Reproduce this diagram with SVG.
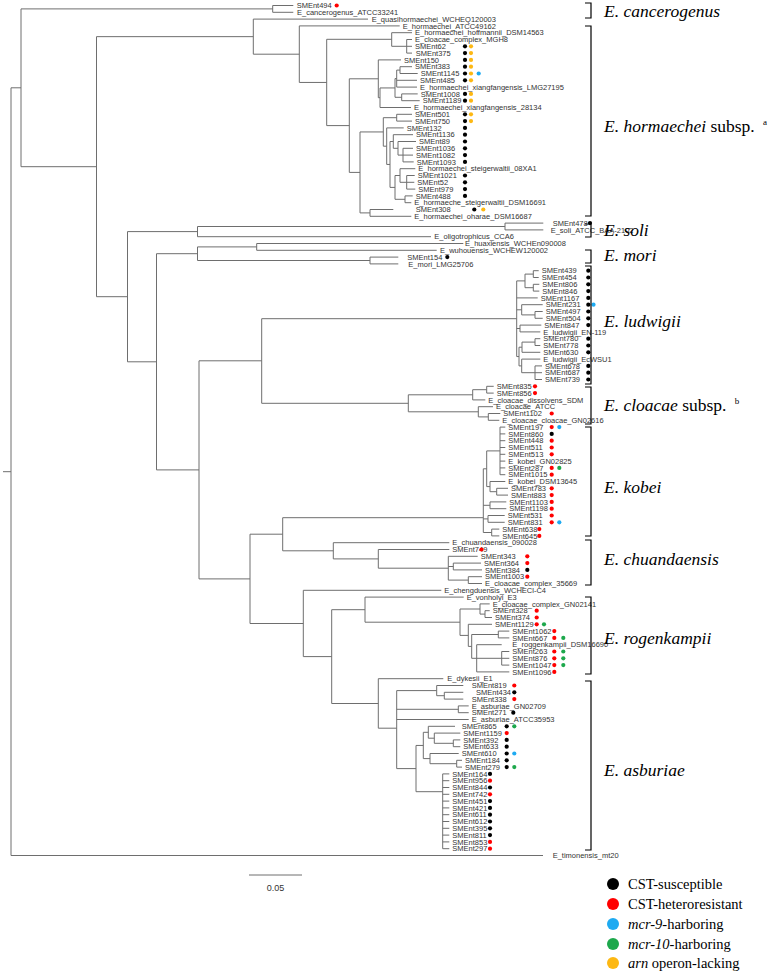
<svg xmlns="http://www.w3.org/2000/svg" width="784" height="971" viewBox="0 0 784 971">
<style>
.e{fill:none;stroke:#6e6e6e;stroke-width:1}
.l{font-family:"Liberation Sans",Arial,sans-serif;font-size:7.5px;fill:#333}
.k{fill:#000}.r{fill:#f00}.b{fill:#1eaaf1}.g{fill:#1da84c}.y{fill:#fdb813}
.br{fill:none;stroke:#000;stroke-width:1.2}
.sp{font-family:"Liberation Serif","Times New Roman",serif;font-size:17.5px;fill:#000}
.lg{font-family:"Liberation Serif","Times New Roman",serif;font-size:14.5px;fill:#000}
.sc{font-family:"Liberation Sans",Arial,sans-serif;font-size:9px;fill:#333}
</style>
<rect width="784" height="971" fill="#fff"/>
<g id="edges" class="e">
<path d="M11 87.8V855.5M3 471.7H11M11 87.8H21M11 855.5H543"/>
<path d="M21 8.9V166.7M21 8.9H272.7M21 166.7H96.5"/>
<path d="M272.7 5.5V12.3M272.7 5.5H293.3M272.7 12.3H293.3"/>
<path d="M96.5 36.65V296.7M96.5 36.65H253.3M96.5 296.7H127.5"/>
<path d="M253.3 19.1V54.2M253.3 19.1H368M253.3 54.2H299.3"/>
<path d="M299.3 25.9V82.45M299.3 25.9H399.7M299.3 82.45H326.7"/>
<path d="M326.7 39.3V125.6M326.7 39.3H391.7M326.7 125.6H349.3"/>
<path d="M391.7 32.7V46.3M391.7 32.7H412M391.7 46.3H406.7"/>
<path d="M406.7 39.5V53.1M406.7 39.5H412M406.7 46.3H412M406.7 53.1H412"/>
<path d="M349.3 78.8V172.4M349.3 78.8H378.3M349.3 172.4H360"/>
<path d="M378.3 59.9V97.7M378.3 59.9H401M378.3 97.7H380"/>
<path d="M380 87.95V107.5M380 87.95H395M380 107.5H411"/>
<path d="M395 78.6V97.3M395 78.6H396.7M395 97.3H401.7"/>
<path d="M396.7 70.1V87.1M396.7 70.1H400M396.7 80.3H417M396.7 87.1H417"/>
<path d="M400 66.7V73.5M400 66.7H412M400 73.5H417.7"/>
<path d="M401.7 93.9V100.7M401.7 93.9H417.7M401.7 100.7H419.7"/>
<path d="M360 131.95V212.9M360 131.95H383.3M360 212.9H370"/>
<path d="M383.3 117.7V146.2M383.3 117.7H396.7M383.3 146.2H386.7"/>
<path d="M396.7 114.3V121.1M396.7 114.3H412M396.7 121.1H412"/>
<path d="M386.7 127.9V164.45M386.7 127.9H403.7M386.7 164.45H390"/>
<path d="M390 141.5V187.4M390 141.5H393.3M390 187.4H395"/>
<path d="M393.3 134.7V148.3M393.3 134.7H413M393.3 148.3H398"/>
<path d="M398 141.5V155.1M398 141.5H416M398 155.1H403"/>
<path d="M403 148.3V161.9M403 148.3H413M403 155.1H413M403 161.9H413.7"/>
<path d="M395 175.5V199.3M395 175.5H400M395 199.3H405"/>
<path d="M400 168.7V182.3M400 168.7H415.3M400 182.3H406.7"/>
<path d="M406.7 175.5V189.1M406.7 175.5H414.7M406.7 182.3H414.3M406.7 189.1H415.3"/>
<path d="M405 195.9V202.7M405 195.9H412.7M405 202.7H411.3"/>
<path d="M370 209.5V216.3M370 209.5H393.3M370 216.3H411.3"/>
<path d="M127.5 231.6V361.8M127.5 231.6H197.5M127.5 361.8H156.5"/>
<path d="M197.5 226.5V236.7M197.5 226.5H505M197.5 236.7H431"/>
<path d="M505 223.1V229.9M505 223.1H543.3M505 229.9H543.3"/>
<path d="M156.5 253.7V469.9M156.5 253.7H197.5M156.5 469.9H199"/>
<path d="M197.5 246.9V260.5M197.5 246.9H256.7M197.5 260.5H370"/>
<path d="M256.7 243.5V250.3M256.7 243.5H463.3M256.7 250.3H436.7"/>
<path d="M370 257.1V263.9M370 257.1H398.3M370 263.9H398.3"/>
<path d="M199 360.8V578.9M199 360.8H261.7M199 578.9H250"/>
<path d="M261.7 318.7V403.3M261.7 318.7H516.7M261.7 403.3H408.3"/>
<path d="M516.7 280.9V356.55M516.7 280.9H525M516.7 297.9H537.7M516.7 309.8H521.7M516.7 328.5H520M516.7 356.55H519"/>
<path d="M525 274.1V287.7M525 274.1H533.3M525 287.7H533.3"/>
<path d="M533.3 270.7V277.5M533.3 270.7H538.7M533.3 277.5H538.7"/>
<path d="M533.3 284.3V291.1M533.3 284.3H539.3M533.3 291.1H539.3"/>
<path d="M521.7 304.7V314.9M521.7 304.7H542.7M521.7 314.9H535"/>
<path d="M535 311.5V318.3M535 311.5H542.7M535 318.3H542.7"/>
<path d="M520 325.1V331.9M520 325.1H541.3M520 331.9H540.3"/>
<path d="M519 347.2V365.9M519 347.2H522M519 365.9H521.7"/>
<path d="M522 342.1V352.3M522 342.1H535M522 352.3H540.3"/>
<path d="M535 338.7V345.5M535 338.7H540.3M535 345.5H540.3"/>
<path d="M521.7 359.1V372.7M521.7 359.1H540.3M521.7 372.7H535"/>
<path d="M535 365.9V379.5M535 365.9H542M535 372.7H542M535 379.5H542"/>
<path d="M408.3 394.8V411.8M408.3 394.8H472.7M408.3 411.8H478.3"/>
<path d="M472.7 389.7V399.9M472.7 389.7H486.7M472.7 399.9H485.3"/>
<path d="M486.7 386.3V393.1M486.7 386.3H493.7M486.7 393.1H493.7"/>
<path d="M478.3 406.7V416.9M478.3 406.7H493M478.3 416.9H488.3"/>
<path d="M488.3 413.5V420.3M488.3 413.5H500.3M488.3 420.3H499.3"/>
<path d="M250 534.2V623.5M250 534.2H282.7M250 623.5H303.3"/>
<path d="M282.7 517.7V550.8M282.7 517.7H483.3M282.7 550.8H333.3"/>
<path d="M483.3 468.8V532.5M483.3 468.8H486.7M483.3 505.3H490M483.3 518.9H488M483.3 532.5H491.7"/>
<path d="M486.7 450.9V486.6M486.7 450.9H500M486.7 486.6H490"/>
<path d="M500 427.1V474.7M500 427.1H505.3M500 433.9H505.3M500 440.7H505.3M500 447.5H505.3M500 454.3H505.3M500 461.1H505.3M500 467.9H505.3M500 474.7H505.3"/>
<path d="M490 481.5V491.7M490 481.5H505.3M490 491.7H496.7"/>
<path d="M496.7 488.3V495.1M496.7 488.3H508M496.7 495.1H508"/>
<path d="M490 501.9V508.7M490 501.9H506.3M490 508.7H506.3"/>
<path d="M488 515.5V522.3M488 515.5H504.7M488 522.3H504.7"/>
<path d="M491.7 529.1V535.9M491.7 529.1H499.3M491.7 535.9H499.3"/>
<path d="M333.3 542.7V558.9M333.3 542.7H449.3M333.3 558.9H378.3"/>
<path d="M378.3 549.5V568.2M378.3 549.5H449.3M378.3 568.2H448.3"/>
<path d="M448.3 556.3V580.1M448.3 556.3H477.7M448.3 566.5H453.3M448.3 580.1H468.3"/>
<path d="M453.3 563.1V569.9M453.3 563.1H481M453.3 569.9H482"/>
<path d="M468.3 576.7V583.5M468.3 576.7H482M468.3 583.5H482"/>
<path d="M303.3 590.3V656.6M303.3 590.3H441.3M303.3 656.6H331.7"/>
<path d="M331.7 609.7V703.5M331.7 609.7H365M331.7 703.5H378.3"/>
<path d="M365 597.1V622.2M365 597.1H463.7M365 622.2H460"/>
<path d="M460 609V635.4M460 609H480M460 635.4H468.3"/>
<path d="M480 603.9V614.1M480 603.9H489.7M480 614.1H485"/>
<path d="M485 610.7V617.5M485 610.7H489.7M485 617.5H492"/>
<path d="M468.3 624.3V646.4M468.3 624.3H492M468.3 646.4H471.7"/>
<path d="M471.7 634.5V658.3M471.7 634.5H498.3M471.7 658.3H476.7"/>
<path d="M498.3 631.1V637.9M498.3 631.1H509.3M498.3 637.9H509.3"/>
<path d="M476.7 644.7V671.9M476.7 644.7H501.7M476.7 658.3H501.7M476.7 671.9H509.3"/>
<path d="M501.7 651.5V665.1M501.7 651.5H509.3M501.7 658.3H509.3M501.7 665.1H509.3"/>
<path d="M378.3 678.7V728.2M378.3 678.7H443.3M378.3 728.2H396.7"/>
<path d="M396.7 690.6V768.6M396.7 690.6H436.7M396.7 709.3H458.3M396.7 719.5H468.7M396.7 768.6H416"/>
<path d="M436.7 685.5V695.7M436.7 685.5H463.3M436.7 695.7H444.3"/>
<path d="M444.3 692.3V699.1M444.3 692.3H463.3M444.3 699.1H463.3"/>
<path d="M458.3 705.9V712.7M458.3 705.9H468.7M458.3 712.7H468.7"/>
<path d="M416 745.45V791.7M416 745.45H423.3M416 791.7H442.7"/>
<path d="M423.3 732.3V758.6M423.3 732.3H428.3M423.3 758.6H430"/>
<path d="M428.3 726.3V738.2M428.3 726.3H455M428.3 738.2H434.3"/>
<path d="M434.3 733.1V743.3M434.3 733.1H460.3M434.3 743.3H453.3"/>
<path d="M453.3 739.9V746.7M453.3 739.9H460.3M453.3 746.7H460.3"/>
<path d="M430 753.5V763.7M430 753.5H458.7M430 763.7H456.7"/>
<path d="M456.7 760.3V767.1M456.7 760.3H462M456.7 767.1H462"/>
<path d="M442.7 773.9V848.7M442.7 773.9H449.3M442.7 780.7H449.3M442.7 787.5H449.3M442.7 794.3H449.3M442.7 801.1H449.3M442.7 807.9H449.3M442.7 814.7H449.3M442.7 821.5H449.3M442.7 828.3H449.3M442.7 835.1H449.3M442.7 841.9H449.3M442.7 848.7H449.3"/>
</g>
<g id="leaves">
<g id="n1"><text class="l" x="296.7" y="8.1">SMEnt494</text><circle class="r" cx="336.7" cy="5.5" r="2.1"/></g>
<g id="n2"><text class="l" x="297" y="14.9">E_cancerogenus_ATCC33241</text></g>
<g id="n3"><text class="l" x="371.7" y="21.7">E_quasihormaechei_WCHEQ120003</text></g>
<g id="n4"><text class="l" x="402.7" y="28.5">E_hormaechei_ATCC49162</text></g>
<g id="n5"><text class="l" x="415" y="35.3">E_hormaechei_hoffmannii_DSM14563</text></g>
<g id="n6"><text class="l" x="415" y="42.1">E_cloacae_complex_MGH8</text></g>
<g id="n7"><text class="l" x="415" y="48.9">SMEnt62</text><circle class="k" cx="465" cy="46.3" r="2.1"/><circle class="y" cx="471" cy="46.3" r="2.1"/></g>
<g id="n8"><text class="l" x="415.7" y="55.7">SMEnt375</text><circle class="k" cx="465" cy="53.1" r="2.1"/><circle class="y" cx="471" cy="53.1" r="2.1"/></g>
<g id="n9"><text class="l" x="404" y="62.5">SMEnt150</text><circle class="k" cx="465" cy="59.9" r="2.1"/><circle class="y" cx="471" cy="59.9" r="2.1"/></g>
<g id="n10"><text class="l" x="415" y="69.3">SMEnt383</text><circle class="k" cx="465" cy="66.7" r="2.1"/><circle class="y" cx="471" cy="66.7" r="2.1"/></g>
<g id="n11"><text class="l" x="420.7" y="76.1">SMEnt1145</text><circle class="k" cx="465" cy="73.5" r="2.1"/><circle class="y" cx="471" cy="73.5" r="2.1"/><circle class="b" cx="478.7" cy="73.5" r="2.1"/></g>
<g id="n12"><text class="l" x="420" y="82.9">SMEnt485</text><circle class="k" cx="465" cy="80.3" r="2.1"/><circle class="y" cx="471" cy="80.3" r="2.1"/></g>
<g id="n13"><text class="l" x="420" y="89.7">E_hormaechei_xiangfangensis_LMG27195</text></g>
<g id="n14"><text class="l" x="420.7" y="96.5">SMEnt1008</text><circle class="k" cx="465" cy="93.9" r="2.1"/><circle class="y" cx="471" cy="93.9" r="2.1"/></g>
<g id="n15"><text class="l" x="422.7" y="103.3">SMEnt1189</text><circle class="k" cx="465" cy="100.7" r="2.1"/><circle class="y" cx="471" cy="100.7" r="2.1"/></g>
<g id="n16"><text class="l" x="414" y="110.1">E_hormaechei_xiangfangensis_28134</text></g>
<g id="n17"><text class="l" x="415" y="116.9">SMEnt501</text><circle class="k" cx="465" cy="114.3" r="2.1"/><circle class="y" cx="471" cy="114.3" r="2.1"/></g>
<g id="n18"><text class="l" x="415" y="123.7">SMEnt750</text><circle class="k" cx="465" cy="121.1" r="2.1"/><circle class="y" cx="471" cy="121.1" r="2.1"/></g>
<g id="n19"><text class="l" x="406.7" y="130.5">SMEnt132</text><circle class="k" cx="465" cy="127.9" r="2.1"/></g>
<g id="n20"><text class="l" x="416" y="137.3">SMEnt1136</text><circle class="k" cx="465" cy="134.7" r="2.1"/></g>
<g id="n21"><text class="l" x="419" y="144.1">SMEnt89</text><circle class="k" cx="465" cy="141.5" r="2.1"/></g>
<g id="n22"><text class="l" x="416" y="150.9">SMEnt1036</text><circle class="k" cx="465" cy="148.3" r="2.1"/></g>
<g id="n23"><text class="l" x="416" y="157.7">SMEnt1082</text><circle class="k" cx="465" cy="155.1" r="2.1"/></g>
<g id="n24"><text class="l" x="416.7" y="164.5">SMEnt1093</text><circle class="k" cx="465" cy="161.9" r="2.1"/></g>
<g id="n25"><text class="l" x="418.3" y="171.3">E_hormaechei_steigerwaltii_08XA1</text></g>
<g id="n26"><text class="l" x="417.7" y="178.1">SMEnt1021</text><circle class="k" cx="465" cy="175.5" r="2.1"/></g>
<g id="n27"><text class="l" x="417.3" y="184.9">SMEnt52</text><circle class="k" cx="465" cy="182.3" r="2.1"/></g>
<g id="n28"><text class="l" x="418.3" y="191.7">SMEnt979</text><circle class="k" cx="465" cy="189.1" r="2.1"/></g>
<g id="n29"><text class="l" x="415.7" y="198.5">SMEnt488</text><circle class="k" cx="465" cy="195.9" r="2.1"/></g>
<g id="n30"><text class="l" x="414.3" y="205.3">E_hormaeche_steigerwaltii_DSM16691</text></g>
<g id="n31"><text class="l" x="415.7" y="212.1">SMEnt308</text><circle class="k" cx="474.3" cy="209.5" r="2.1"/><circle class="y" cx="483.3" cy="209.5" r="2.1"/></g>
<g id="n32"><text class="l" x="414.3" y="218.9">E_hormaechei_oharae_DSM16687</text></g>
<g id="n33"><text class="l" x="552.7" y="225.7">SMEnt478</text><circle class="k" cx="590" cy="223.1" r="2.1"/></g>
<g id="n34"><text class="l" x="550.7" y="232.5">E_soli_ATCC_BAA-2102</text></g>
<g id="n35"><text class="l" x="434.3" y="239.3">E_oligotrophicus_CCA6</text></g>
<g id="n36"><text class="l" x="465" y="246.1">E_huaxiensis_WCHEn090008</text></g>
<g id="n37"><text class="l" x="440" y="252.9">E_wuhouensis_WCHEW120002</text></g>
<g id="n38"><text class="l" x="407.3" y="259.7">SMEnt154</text><circle class="k" cx="447.3" cy="257.1" r="2.1"/></g>
<g id="n39"><text class="l" x="408.3" y="266.5">E_mori_LMG25706</text></g>
<g id="n40"><text class="l" x="541.7" y="273.3">SMEnt439</text><circle class="k" cx="588.3" cy="270.7" r="2.1"/></g>
<g id="n41"><text class="l" x="541.7" y="280.1">SMEnt454</text><circle class="k" cx="588.3" cy="277.5" r="2.1"/></g>
<g id="n42"><text class="l" x="542.3" y="286.9">SMEnt806</text><circle class="k" cx="588.3" cy="284.3" r="2.1"/></g>
<g id="n43"><text class="l" x="542.3" y="293.7">SMEnt846</text><circle class="k" cx="588.3" cy="291.1" r="2.1"/></g>
<g id="n44"><text class="l" x="540.7" y="300.5">SMEnt1167</text><circle class="k" cx="588.3" cy="297.9" r="2.1"/></g>
<g id="n45"><text class="l" x="545.7" y="307.3">SMEnt231</text><circle class="k" cx="588.3" cy="304.7" r="2.1"/><circle class="b" cx="593.5" cy="304.7" r="2.1"/></g>
<g id="n46"><text class="l" x="545.7" y="314.1">SMEnt497</text><circle class="k" cx="588.3" cy="311.5" r="2.1"/></g>
<g id="n47"><text class="l" x="545.7" y="320.9">SMEnt504</text><circle class="k" cx="588.3" cy="318.3" r="2.1"/></g>
<g id="n48"><text class="l" x="544.3" y="327.7">SMEnt847</text><circle class="k" cx="588.3" cy="325.1" r="2.1"/></g>
<g id="n49"><text class="l" x="543.3" y="334.5">E_ludwigii_EN-119</text></g>
<g id="n50"><text class="l" x="543.3" y="341.3">SMEnt780</text><circle class="k" cx="588.3" cy="338.7" r="2.1"/></g>
<g id="n51"><text class="l" x="543.3" y="348.1">SMEnt778</text><circle class="k" cx="588.3" cy="345.5" r="2.1"/></g>
<g id="n52"><text class="l" x="543.3" y="354.9">SMEnt630</text><circle class="k" cx="588.3" cy="352.3" r="2.1"/></g>
<g id="n53"><text class="l" x="543.3" y="361.7">E_ludwigii_EcWSU1</text></g>
<g id="n54"><text class="l" x="545" y="368.5">SMEnt678</text><circle class="k" cx="588.3" cy="365.9" r="2.1"/></g>
<g id="n55"><text class="l" x="545" y="375.3">SMEnt687</text><circle class="k" cx="588.3" cy="372.7" r="2.1"/></g>
<g id="n56"><text class="l" x="545" y="382.1">SMEnt739</text><circle class="k" cx="588.3" cy="379.5" r="2.1"/></g>
<g id="n57"><text class="l" x="496.7" y="388.9">SMEnt835</text><circle class="r" cx="535" cy="386.3" r="2.1"/></g>
<g id="n58"><text class="l" x="496.7" y="395.7">SMEnt856</text><circle class="r" cx="535" cy="393.1" r="2.1"/></g>
<g id="n59"><text class="l" x="488.3" y="402.5">E_cloacae_dissolvens_SDM</text></g>
<g id="n60"><text class="l" x="496" y="409.3">E_cloacae_ATCC</text></g>
<g id="n61"><text class="l" x="503.3" y="416.1">SMEnt1102</text><circle class="r" cx="551.7" cy="413.5" r="2.1"/></g>
<g id="n62"><text class="l" x="502.3" y="422.9">E_cloacae_cloacae_GN02616</text></g>
<g id="n63"><text class="l" x="508.3" y="429.7">SMEnt197</text><circle class="r" cx="551.7" cy="427.1" r="2.1"/><circle class="b" cx="559.3" cy="427.1" r="2.1"/></g>
<g id="n64"><text class="l" x="508.3" y="436.5">SMEnt860</text><circle class="k" cx="551.7" cy="433.9" r="2.1"/></g>
<g id="n65"><text class="l" x="508.3" y="443.3">SMEnt448</text><circle class="r" cx="551.7" cy="440.7" r="2.1"/></g>
<g id="n66"><text class="l" x="508.3" y="450.1">SMEnt511</text><circle class="r" cx="551.7" cy="447.5" r="2.1"/></g>
<g id="n67"><text class="l" x="508.3" y="456.9">SMEnt513</text><circle class="r" cx="551.7" cy="454.3" r="2.1"/></g>
<g id="n68"><text class="l" x="508.3" y="463.7">E_kobei_GN02825</text></g>
<g id="n69"><text class="l" x="508.3" y="470.5">SMEnt287</text><circle class="r" cx="551.7" cy="467.9" r="2.1"/><circle class="g" cx="559.3" cy="467.9" r="2.1"/></g>
<g id="n70"><text class="l" x="508.3" y="477.3">SMEnt1015</text><circle class="r" cx="551.7" cy="474.7" r="2.1"/></g>
<g id="n71"><text class="l" x="508.3" y="484.1">E_kobei_DSM13645</text></g>
<g id="n72"><text class="l" x="511" y="490.9">SMEnt783</text><circle class="r" cx="551.7" cy="488.3" r="2.1"/></g>
<g id="n73"><text class="l" x="511" y="497.7">SMEnt883</text><circle class="r" cx="551.7" cy="495.1" r="2.1"/></g>
<g id="n74"><text class="l" x="509.3" y="504.5">SMEnt1103</text><circle class="r" cx="551.7" cy="501.9" r="2.1"/></g>
<g id="n75"><text class="l" x="509.3" y="511.3">SMEnt1198</text><circle class="r" cx="551.7" cy="508.7" r="2.1"/></g>
<g id="n76"><text class="l" x="507.7" y="518.1">SMEnt531</text><circle class="r" cx="551.7" cy="515.5" r="2.1"/></g>
<g id="n77"><text class="l" x="507.7" y="524.9">SMEnt831</text><circle class="r" cx="551.7" cy="522.3" r="2.1"/><circle class="b" cx="559.3" cy="522.3" r="2.1"/></g>
<g id="n78"><text class="l" x="502.3" y="531.7">SMEnt638</text><circle class="r" cx="539.3" cy="529.1" r="2.1"/></g>
<g id="n79"><text class="l" x="502.3" y="538.5">SMEnt645</text><circle class="r" cx="539.3" cy="535.9" r="2.1"/></g>
<g id="n80"><text class="l" x="452.3" y="545.3">E_chuandaensis_090028</text></g>
<g id="n81"><text class="l" x="452.3" y="552.1">SMEnt749</text><circle class="r" cx="481.5" cy="549.5" r="2.1"/></g>
<g id="n82"><text class="l" x="480.7" y="558.9">SMEnt343</text><circle class="r" cx="527.3" cy="556.3" r="2.1"/></g>
<g id="n83"><text class="l" x="484" y="565.7">SMEnt364</text><circle class="r" cx="527.3" cy="563.1" r="2.1"/></g>
<g id="n84"><text class="l" x="485" y="572.5">SMEnt384</text><circle class="k" cx="527.3" cy="569.9" r="2.1"/></g>
<g id="n85"><text class="l" x="485" y="579.3">SMEnt1003</text><circle class="r" cx="527.3" cy="576.7" r="2.1"/></g>
<g id="n86"><text class="l" x="485" y="586.1">E_cloacae_complex_35669</text></g>
<g id="n87"><text class="l" x="444.3" y="592.9">E_chengduensis_WCHECl-C4</text></g>
<g id="n88"><text class="l" x="466.7" y="599.7">E_vonholyi_E3</text></g>
<g id="n89"><text class="l" x="492.7" y="606.5">E_cloacae_complex_GN02141</text></g>
<g id="n90"><text class="l" x="492.7" y="613.3">SMEnt328</text><circle class="r" cx="536.7" cy="610.7" r="2.1"/></g>
<g id="n91"><text class="l" x="495" y="620.1">SMEnt374</text><circle class="r" cx="536.7" cy="617.5" r="2.1"/></g>
<g id="n92"><text class="l" x="495" y="626.9">SMEnt1129</text><circle class="r" cx="536.7" cy="624.3" r="2.1"/><circle class="g" cx="544" cy="624.3" r="2.1"/></g>
<g id="n93"><text class="l" x="512.3" y="633.7">SMEnt1062</text><circle class="r" cx="554.3" cy="631.1" r="2.1"/></g>
<g id="n94"><text class="l" x="512.3" y="640.5">SMEnt667</text><circle class="r" cx="554.3" cy="637.9" r="2.1"/><circle class="g" cx="563.3" cy="637.9" r="2.1"/></g>
<g id="n95"><text class="l" x="512.3" y="647.3">E_roggenkampii_DSM16690</text></g>
<g id="n96"><text class="l" x="512.3" y="654.1">SMEnt263</text><circle class="r" cx="554.3" cy="651.5" r="2.1"/><circle class="g" cx="563.3" cy="651.5" r="2.1"/></g>
<g id="n97"><text class="l" x="512.3" y="660.9">SMEnt876</text><circle class="r" cx="554.3" cy="658.3" r="2.1"/><circle class="g" cx="563.3" cy="658.3" r="2.1"/></g>
<g id="n98"><text class="l" x="512.3" y="667.7">SMEnt1047</text><circle class="r" cx="554.3" cy="665.1" r="2.1"/><circle class="g" cx="563.3" cy="665.1" r="2.1"/></g>
<g id="n99"><text class="l" x="512.3" y="674.5">SMEnt1096</text><circle class="r" cx="554.3" cy="671.9" r="2.1"/></g>
<g id="n100"><text class="l" x="447.3" y="681.3">E_dykesii_E1</text></g>
<g id="n101"><text class="l" x="471.7" y="688.1">SMEnt819</text><circle class="r" cx="514.3" cy="685.5" r="2.1"/></g>
<g id="n102"><text class="l" x="476" y="694.9">SMEnt434</text><circle class="k" cx="514.3" cy="692.3" r="2.1"/></g>
<g id="n103"><text class="l" x="471.7" y="701.7">SMEnt338</text><circle class="r" cx="514.3" cy="699.1" r="2.1"/></g>
<g id="n104"><text class="l" x="471.7" y="708.5">E_asburiae_GN02709</text></g>
<g id="n105"><text class="l" x="471.7" y="715.3">SMEnt271</text><circle class="k" cx="513.3" cy="712.7" r="2.1"/></g>
<g id="n106"><text class="l" x="471.7" y="722.1">E_asburiae_ATCC35953</text></g>
<g id="n107"><text class="l" x="461.7" y="728.9">SMEnt865</text><circle class="k" cx="506.7" cy="726.3" r="2.1"/><circle class="g" cx="514.3" cy="726.3" r="2.1"/></g>
<g id="n108"><text class="l" x="463.3" y="735.7">SMEnt1159</text><circle class="r" cx="506.7" cy="733.1" r="2.1"/></g>
<g id="n109"><text class="l" x="463.3" y="742.5">SMEnt392</text><circle class="k" cx="506.7" cy="739.9" r="2.1"/></g>
<g id="n110"><text class="l" x="463.3" y="749.3">SMEnt633</text><circle class="k" cx="506.7" cy="746.7" r="2.1"/></g>
<g id="n111"><text class="l" x="461.7" y="756.1">SMEnt610</text><circle class="k" cx="506.7" cy="753.5" r="2.1"/><circle class="b" cx="514.3" cy="753.5" r="2.1"/></g>
<g id="n112"><text class="l" x="465" y="762.9">SMEnt184</text><circle class="k" cx="506.7" cy="760.3" r="2.1"/></g>
<g id="n113"><text class="l" x="465" y="769.7">SMEnt279</text><circle class="k" cx="506.7" cy="767.1" r="2.1"/><circle class="g" cx="514.3" cy="767.1" r="2.1"/></g>
<g id="n114"><text class="l" x="452.3" y="776.5">SMEnt164</text><circle class="k" cx="490" cy="773.9" r="2.1"/></g>
<g id="n115"><text class="l" x="452.3" y="783.3">SMEnt956</text><circle class="r" cx="490" cy="780.7" r="2.1"/></g>
<g id="n116"><text class="l" x="452.3" y="790.1">SMEnt844</text><circle class="k" cx="490" cy="787.5" r="2.1"/></g>
<g id="n117"><text class="l" x="452.3" y="796.9">SMEnt742</text><circle class="r" cx="490" cy="794.3" r="2.1"/></g>
<g id="n118"><text class="l" x="452.3" y="803.7">SMEnt451</text><circle class="k" cx="490" cy="801.1" r="2.1"/></g>
<g id="n119"><text class="l" x="452.3" y="810.5">SMEnt421</text><circle class="k" cx="490" cy="807.9" r="2.1"/></g>
<g id="n120"><text class="l" x="452.3" y="817.3">SMEnt611</text><circle class="k" cx="490" cy="814.7" r="2.1"/></g>
<g id="n121"><text class="l" x="452.3" y="824.1">SMEnt612</text><circle class="k" cx="490" cy="821.5" r="2.1"/></g>
<g id="n122"><text class="l" x="452.3" y="830.9">SMEnt395</text><circle class="k" cx="490" cy="828.3" r="2.1"/></g>
<g id="n123"><text class="l" x="452.3" y="837.7">SMEnt811</text><circle class="k" cx="490" cy="835.1" r="2.1"/></g>
<g id="n124"><text class="l" x="452.3" y="844.5">SMEnt853</text><circle class="r" cx="490" cy="841.9" r="2.1"/></g>
<g id="n125"><text class="l" x="452.3" y="851.3">SMEnt297</text><circle class="r" cx="490" cy="848.7" r="2.1"/></g>
<g id="n126"><text class="l" x="552.7" y="858.1">E_timonensis_mt20</text></g>
</g>
<g id="clades">
<path class="br" d="M585 3H591V18H585"/>
<path class="br" d="M585 26H591V216H585"/>
<path class="br" d="M585 224H591V237H585"/>
<path class="br" d="M585 250H591V263H585"/>
<path class="br" d="M585 266H591V384H585"/>
<path class="br" d="M585 387H591V424H585"/>
<path class="br" d="M585 427H591V536H585"/>
<path class="br" d="M585 540H591V585H585"/>
<path class="br" d="M585 597H591V674H585"/>
<path class="br" d="M585 681H591V850H585"/>
<text class="sp" x="604" y="16.5"><tspan font-style="italic">E. cancerogenus</tspan></text>
<text class="sp" x="604" y="131.5"><tspan font-style="italic">E. hormaechei</tspan> subsp. <tspan font-size="9" dx="4" dy="-7">a</tspan></text>
<text class="sp" x="604" y="235.5"><tspan font-style="italic">E. soli</tspan></text>
<text class="sp" x="604" y="260.5"><tspan font-style="italic">E. mori</tspan></text>
<text class="sp" x="604" y="326.5"><tspan font-style="italic">E. ludwigii</tspan></text>
<text class="sp" x="604" y="410.5"><tspan font-style="italic">E. cloacae</tspan> subsp. <tspan font-size="9" dx="4" dy="-7">b</tspan></text>
<text class="sp" x="604" y="492.5"><tspan font-style="italic">E. kobei</tspan></text>
<text class="sp" x="604" y="564.5"><tspan font-style="italic">E. chuandaensis</tspan></text>
<text class="sp" x="604" y="643.5"><tspan font-style="italic">E. rogenkampii</tspan></text>
<text class="sp" x="604" y="775.5"><tspan font-style="italic">E. asburiae</tspan></text>
</g>
<g id="scale">
<path class="e" d="M249 875H302" stroke="#333"/>
<text class="sc" x="275.5" y="891" text-anchor="middle">0.05</text>
</g>
<g id="legend">
<circle class="k" cx="613" cy="884" r="6"/><text class="lg" x="628" y="889">CST-susceptible</text>
<circle class="r" cx="613" cy="904" r="6"/><text class="lg" x="628" y="909">CST-heteroresistant</text>
<circle class="b" cx="613" cy="924" r="6"/><text class="lg" x="628" y="929"><tspan font-style="italic">mcr-9</tspan>-harboring</text>
<circle class="g" cx="613" cy="944" r="6"/><text class="lg" x="628" y="949"><tspan font-style="italic">mcr-10</tspan>-harboring</text>
<circle class="y" cx="613" cy="963" r="6"/><text class="lg" x="628" y="968"><tspan font-style="italic">arn</tspan> operon-lacking</text>
</g>
</svg>
